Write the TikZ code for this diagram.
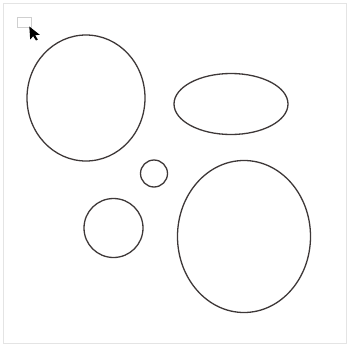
\documentclass[tikz,border=0pt]{standalone}
\usepackage{tikz}
\usetikzlibrary{shapes.geometric}
\definecolor{outlinegrey}{HTML}{3E3838}
\definecolor{framegrey}{HTML}{E4E4E4}
\definecolor{handlegrey}{HTML}{CFCFCF}
\tikzset{
  blob/.style={ellipse, draw=outlinegrey, line width=1.3pt, inner sep=0pt, outer sep=0pt},
  frame/.style={draw=framegrey, line width=0.8pt},
  handle/.style={draw=handlegrey, line width=0.7pt}
}

\begin{document}
\begin{tikzpicture}[x=1pt, y=-1pt]
  \useasboundingbox (0,0) rectangle (347,345);
  \draw[frame] (3,3) rectangle (346,343);
  % shapes
  \node[blob, minimum width=118pt, minimum height=126pt] (bigcircle) at (86,98) {};
  \node[blob, minimum width=114pt, minimum height=61pt] (flatoval) at (231,104) {};
  \node[blob, minimum width=27pt, minimum height=27pt] (dot) at (154,173.5) {};
  \node[blob, minimum width=59pt, minimum height=59pt] (midcircle) at (113.5,228) {};
  \node[blob, minimum width=133pt, minimum height=152pt] (egg) at (244,236.5) {};
  % selection handle and pointer
  \node[handle, minimum width=14pt, minimum height=10pt, inner sep=0pt] (grip) at (24,22.3) {};
  \fill[black] (29.3,26.5) -- (30.2,39.5) -- (33.2,36.2) -- (36,40.5) -- (37.8,39.6) -- (35.2,35.2) -- (39.8,34.8) -- cycle;
\end{tikzpicture}
\end{document}
